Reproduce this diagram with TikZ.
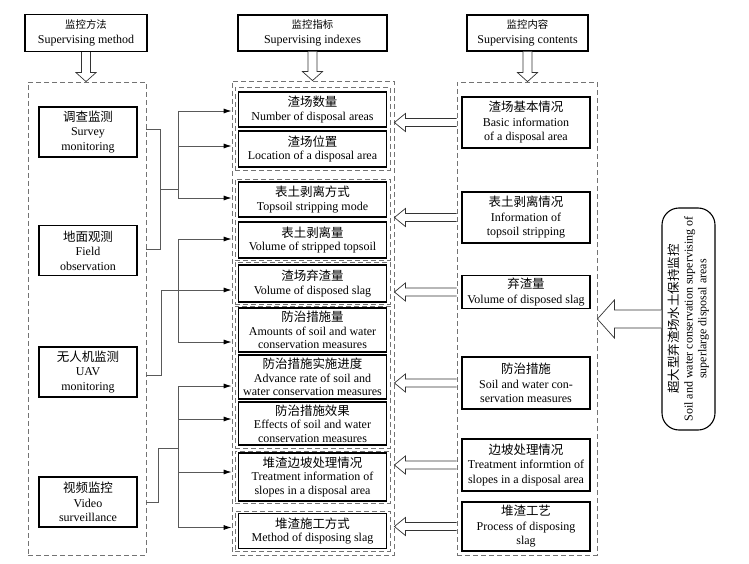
\documentclass[tikz,border=0pt]{standalone}
\usepackage{fontspec}
\setmainfont{Liberation Serif}
\newfontfamily\cjk[Scale=1.04]{Noto Sans CJK SC}
\usetikzlibrary{arrows.meta,calc}
\newcommand{\zh}[1]{{\cjk #1}}
\newcommand{\zhs}[1]{{\cjk\fontsize{10}{12}\selectfont #1}}
% hollow arrow pointing left: #1 start (right), #2 tip (x only), #3 shaft half, #4 head half, #5 head length
\newcommand{\hollowleft}[5]{\draw[hollow] let \p1=(#1), \p2=(#2) in
  (\x1,\y1+#3) -- (\x2+#5,\y1+#3) -- (\x2+#5,\y1+#4) -- (\x2,\y1) -- (\x2+#5,\y1-#4) -- (\x2+#5,\y1-#3) -- (\x1,\y1-#3);}
% hollow arrow pointing down: #1 start (top), #2 tip (y only)
\newcommand{\hollowdown}[5]{\draw[hollow] let \p1=(#1), \p2=(#2) in
  (\x1-#3,\y1) -- (\x1-#3,\y2+#5) -- (\x1-#4,\y2+#5) -- (\x1,\y2) -- (\x1+#4,\y2+#5) -- (\x1+#3,\y2+#5) -- (\x1+#3,\y1);}
\begin{document}
\begin{tikzpicture}[x=1pt,y=-1pt,
  box/.style={draw, line width=1.1pt, inner sep=0pt, align=center, font=\fontsize{12}{14.5}\selectfont},
  lbox/.style={box, minimum width=98pt, minimum height=50pt},
  mbox/.style={box, minimum width=148pt, font=\fontsize{12}{13.5}\selectfont},
  rbox/.style={box, minimum width=128pt, font=\fontsize{12}{14.5}\selectfont},
  dbox/.style={draw=black!55, dash pattern=on 5pt off 3pt, line width=0.8pt, inner sep=0pt},
  conn/.style={draw=black!65, line width=0.8pt},
  tip/.style={conn, -{Latex[length=8pt,width=5pt,color=black]}},
  hollow/.style={draw=black!80, line width=0.7pt, fill=white},
]
\useasboundingbox (0,0) rectangle (749,564);
% top boxes
\node[box, minimum width=122pt, minimum height=37pt] (tA) at (86,33) {\zhs{监控方法}\\Supervising method};
\node[box, minimum width=149pt, minimum height=36pt] (tB) at (312.5,33) {\zhs{监控指标}\\Supervising indexes};
\node[box, minimum width=121pt, minimum height=36pt] (tC) at (527.5,33) {\zhs{监控内容}\\Supervising contents};
% containers
\node[dbox, minimum width=118pt, minimum height=473pt] (lc) at (87,318.5) {};
\node[dbox, minimum width=162pt, minimum height=474pt] (mc) at (313,318) {};
\node[dbox, minimum width=140pt, minimum height=473pt] (rc) at (527,318.5) {};
% middle groups
\node[dbox, minimum width=155pt, minimum height=83pt] (g1) at (312.5,128.5) {};
\node[dbox, minimum width=155pt, minimum height=81pt] (g2) at (312.5,219.5) {};
\node[dbox, minimum width=155pt, minimum height=42pt] (g3) at (312.5,283) {};
\node[dbox, minimum width=155pt, minimum height=142pt] (g4) at (312.5,377) {};
\node[dbox, minimum width=155pt, minimum height=52pt] (g5) at (312.5,477) {};
\node[dbox, minimum width=155pt, minimum height=40pt] (g6) at (312.5,531) {};
% left boxes
\node[lbox] (l1) at (88,132) {\zh{调查监测}\\Survey\\monitoring};
\node[lbox] (l2) at (88,250.5) {\zh{地面观测}\\Field\\observation};
\node[lbox] (l3) at (88,372) {\zh{无人机监测}\\UAV\\monitoring};
\node[lbox] (l4) at (88,502) {\zh{视频监控}\\Video\\surveillance};
% middle boxes
\node[mbox, minimum height=35pt] (m1) at (312.5,109.5) {\zh{渣场数量}\\Number of disposal areas};
\node[mbox, minimum height=36pt] (m2) at (312.5,149) {\zh{渣场位置}\\Location of a disposal area};
\node[mbox, minimum height=35pt] (m3) at (312.5,199.5) {\zh{表土剥离方式}\\Topsoil stripping mode};
\node[mbox, minimum height=36pt] (m4) at (312.5,240) {\zh{表土剥离量}\\Volume of stripped topsoil};
\node[mbox, minimum height=37pt] (m5) at (312.5,283.5) {\zh{渣场弃渣量}\\Volume of disposed slag};
\node[mbox, minimum height=44pt] (m6) at (312.5,330) {\zh{防治措施量}\\Amounts of soil and water\\conservation measures};
\node[mbox, minimum height=44pt] (m7) at (312.5,377) {\zh{防治措施实施进度}\\Advance rate of soil and\\water conservation measures};
\node[mbox, minimum height=43pt] (m8) at (312.5,423.5) {\zh{防治措施效果}\\Effects of soil and water\\conservation measures};
\node[mbox, minimum height=48pt] (m9) at (312.5,477) {\zh{堆渣边坡处理情况}\\Treatment information of\\slopes in a disposal area};
\node[mbox, minimum height=35pt] (m10) at (312.5,531) {\zh{堆渣施工方式}\\Method of disposing slag};
% right boxes
\node[rbox, minimum height=51pt] (r1) at (526,122.5) {\zh{渣场基本情况}\\Basic information\\of a disposal area};
\node[rbox, minimum height=51pt] (r2) at (526,217.5) {\zh{表土剥离情况}\\Information of\\topsoil stripping};
\node[rbox, minimum height=33pt] (r3) at (526,292) {\zh{弃渣量}\\Volume of disposed slag};
\node[rbox, minimum height=52pt] (r4) at (526,383) {\zh{防治措施}\\Soil and water con-\\servation measures};
\node[rbox, minimum height=52pt] (r5) at (526,465) {\zh{边坡处理情况}\\Treatment informtion of\\slopes in a disposal area};
\node[rbox, minimum height=49pt] (r6) at (526,526.5) {\zh{堆渣工艺}\\Process of disposing\\slag};
% big rounded box
\node[draw, line width=1.1pt, rounded corners=17pt, minimum width=53pt, minimum height=222pt, inner sep=0pt] (big) at (688.5,319) {};
\node[rotate=90, align=center, inner sep=0pt, font=\fontsize{12}{13.8}\selectfont] (bigtxt) at (big.center) {\zh{超大型弃渣场水土保持监控}\\Soil and water conservation supervising of\\superlarge disposal areas};
% hollow arrows
\hollowdown{tA.south}{lc.north}{4.5pt}{10pt}{9pt}
\hollowdown{tB.south}{mc.north}{4.5pt}{10pt}{9pt}
\hollowdown{tC.south}{rc.north}{4.5pt}{10pt}{9pt}
\hollowleft{rc.west |- r1}{mc.east}{4pt}{9pt}{11pt}
\hollowleft{rc.west |- r2}{mc.east}{4pt}{9pt}{11pt}
\hollowleft{rc.west |- r3}{mc.east}{4pt}{9pt}{11pt}
\hollowleft{rc.west |- r4}{mc.east}{4pt}{9pt}{11pt}
\hollowleft{rc.west |- r5}{mc.east}{4pt}{9pt}{11pt}
\hollowleft{rc.west |- r6}{mc.east}{4pt}{9pt}{11pt}
\hollowleft{big.west}{rc.east}{9pt}{19pt}{17pt}
% connector coordinates
\coordinate (s1) at ($(lc.east |- l1)+(0,-3)$);
\coordinate (s2) at ($(lc.east |- l2)+(0,-1.5)$);
\coordinate (s3) at ($(lc.east |- l3)+(0,3)$);
\coordinate (s4) at (lc.east |- l4);
\coordinate (t1) at ($(mc.west |- m1)+(0,1.5)$);
\coordinate (t2) at ($(mc.west |- m2)+(0,-3)$);
\coordinate (t3) at ($(mc.west |- m3)+(0,-1.5)$);
\coordinate (t4) at ($(mc.west |- m4)+(0,-1)$);
\coordinate (t5) at ($(mc.west |- m5)+(0,6.5)$);
\coordinate (t6) at ($(mc.west |- m6)+(0,12)$);
\coordinate (t7) at ($(mc.west |- m7)+(0,9)$);
\coordinate (t8) at ($(mc.west |- m8)+(0,-4.5)$);
\coordinate (t9) at ($(mc.west |- m9)+(0,-5)$);
\coordinate (t10) at ($(mc.west |- m10)+(0,-3.5)$);
\coordinate (bx) at ($(lc.east)+(32,0)$);
% tree 1
\draw[conn] (s1) -- ++(14,0) |- (s2);
\draw[conn] ($(s1)!0.5!(s2)+(14,0)$) -- ($(s1)!0.5!(s2)+(32,0)$);
\draw[conn] (bx |- t1) -- (bx |- t3);
\draw[tip] (bx |- t1) -- (t1);
\draw[tip] (bx |- t2) -- (t2);
\draw[tip] (bx |- t3) -- (t3);
% tree 2
\draw[tip] (s3) -- ++(15,0) |- (t5);
\draw[conn] (bx |- t4) -- (bx |- t6);
\draw[tip] (bx |- t4) -- (t4);
\draw[tip] (bx |- t6) -- (t6);
% tree 3
\coordinate (j3) at ($(bx |- t8)!0.55!(bx |- t9)$);
\draw[conn] (s4) -- ++(12,0) |- (j3);
\draw[conn] (bx |- t7) -- (bx |- t10);
\draw[tip] (bx |- t7) -- (t7);
\draw[tip] (bx |- t8) -- (t8);
\draw[tip] (bx |- t9) -- (t9);
\draw[tip] (bx |- t10) -- (t10);
\end{tikzpicture}
\end{document}
